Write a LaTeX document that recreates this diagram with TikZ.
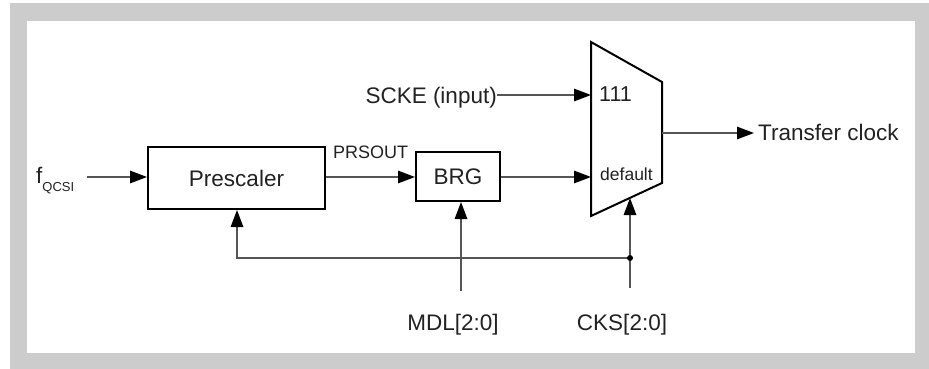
\documentclass[tikz,border=0pt]{standalone}
\usepackage{fontspec}
\setmainfont{Liberation Sans}
\usetikzlibrary{arrows.meta}
\definecolor{framegray}{HTML}{CCCCCC}
\definecolor{linegray}{HTML}{555555}
\definecolor{textdark}{HTML}{222222}
\tikzset{
  box/.style={draw=black, line width=2pt, inner sep=0pt, text=textdark, font=\fontsize{22.5}{27}\selectfont},
  muxline/.style={draw=black, line width=2pt, line join=miter},
  conn/.style={draw=linegray, line width=1.4pt},
  arr/.style={conn, -{Triangle[length=17pt,width=12.5pt,fill=black,color=black]}},
  lbl/.style={inner sep=0pt, text=textdark, font=\fontsize{22.5}{27}\selectfont},
  small/.style={inner sep=0pt, text=textdark, font=\fontsize{18}{21}\selectfont},
}
\begin{document}
\begin{tikzpicture}[x=1pt,y=-1pt]
\useasboundingbox (0,0) rectangle (929,369);
\fill[framegray] (10,3) rectangle (929,369);
\fill[white] (27,21) rectangle (915,353);

% blocks
\node[box, minimum width=177pt, minimum height=62pt] (pre) at (236.5,178) {Prescaler};
\node[box, minimum width=84pt, minimum height=49pt] (brg) at (458,176.5) {BRG};

% multiplexer
\coordinate (m1) at (591,42);
\coordinate (m2) at (662,82);
\coordinate (m3) at (662,183);
\coordinate (m4) at (591,216);
\draw[muxline] (m1) -- (m2) -- (m3) -- (m4) -- cycle;
\node[lbl, anchor=base west, font=\fontsize{21.5}{25}\selectfont] (l111) at (599,102) {111};
\node[small, anchor=base west, font=\fontsize{17.5}{21}\selectfont] (ldef) at (600,180) {default};

% labels
\node[lbl, anchor=base west] (fq) at (36,183) {f\raisebox{-8pt}{\fontsize{13}{15}\selectfont QCSI}};
\node[small, anchor=base west] (prs) at (333,158) {PRSOUT};
\node[lbl, anchor=base east] (scke) at (497,103) {SCKE (input)};
\node[lbl, anchor=base west] (tc) at (758,140) {Transfer clock};
\node[lbl, anchor=base] (mdl) at (453,330) {MDL[2:0]};
\node[lbl, anchor=base] (cks) at (622,330) {CKS[2:0]};

% connection points
\coordinate (fstart) at (87,177);
\coordinate (sckestart) at (497,95);
\coordinate (mux111) at (591,95);
\coordinate (muxdef) at (591,177);
\coordinate (muxout) at (662,133);
\coordinate (tcend) at (754,133);
\coordinate (cksbot) at (630,288);
\coordinate (cksin) at (630,198);
\coordinate (junc) at (630,258);
\coordinate (mdlbot) at (461,291);
\coordinate (precorner) at (237,258);

% connectors
\draw[arr] (fstart) -- (fstart -| pre.west);
\draw[arr] (pre.east |- fstart) -- (brg.west |- fstart);
\draw[arr] (brg.east |- muxdef) -- (muxdef);
\draw[arr] (sckestart) -- (mux111);
\draw[arr] (muxout) -- (tcend);
\draw[arr] (cksbot) -- (cksin);
\draw[arr] (mdlbot) -- (mdlbot |- brg.south);
\draw[arr] (junc) -- (precorner) -- (precorner |- pre.south);
\fill[black] (junc) circle (3pt);
\end{tikzpicture}
\end{document}
